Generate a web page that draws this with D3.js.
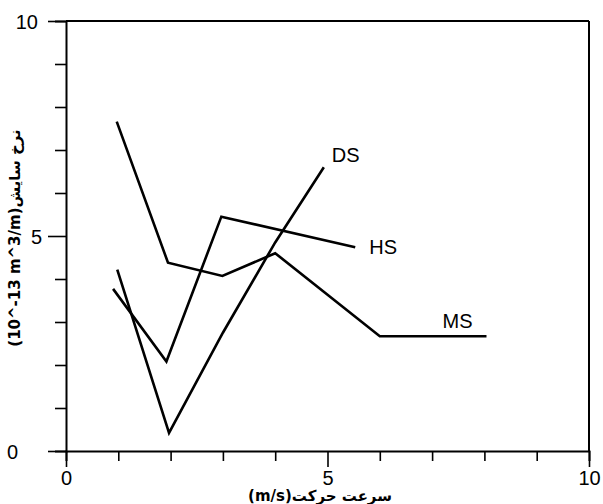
<!DOCTYPE html>
<html><head><meta charset="utf-8">
<script src="https://cdn.jsdelivr.net/npm/d3@7"></script>
<style>body{margin:0;background:#fff;} svg{display:block;}</style>
</head><body>
<svg id="c" width="603" height="504"></svg>
<script>
// ---- data ----
const seriesNames = ["MS", "HS", "DS"];
const msX = [0.97, 1.95, 2.99, 4.0, 6.0, 8.04];
const msY = [7.66, 4.38, 4.07, 4.6, 2.67, 2.67];
const hsX = [0.9, 1.92, 2.97, 5.53];
const hsY = [3.77, 2.08, 5.45, 4.74];
const dsX = [0.98, 1.97, 3.0, 4.0, 4.93];
const dsY = [4.22, 0.42, 2.75, 4.85, 6.6];
const xTicks = [0,1,2,3,4,5,6,7,8,9,10];
const yTicks = [0,1,2,3,4,5,6,7,8,9,10];
const majorTicks = [0, 5, 10];
const xTitle = "(m/s)سرعت حرکت";
const yTitle = "(10^-13 m^3/m)نرخ سایش";

const svg = d3.select("#c");
const x = d3.scaleLinear().domain([0,10]).range([66,589]);
const y = d3.scaleLinear().domain([0,10]).range([451,21]);

const series = [
  {name:"MS", xs:msX, ys:msY, dx:-44, dy:-8},
  {name:"HS", xs:hsX, ys:hsY, dx:14, dy:7},
  {name:"DS", xs:dsX, ys:dsY, dx:8, dy:-5}
];

// frame top and right
svg.append("line").attr("x1",x(0)).attr("x2",x(10)).attr("y1",y(10)).attr("y2",y(10))
  .attr("stroke","#000").attr("stroke-width",2);
svg.append("line").attr("x1",x(10)).attr("x2",x(10)).attr("y1",y(0)).attr("y2",y(10))
  .attr("stroke","#000").attr("stroke-width",2);

// x axis
const gx = svg.append("g").attr("transform",`translate(0,${y(0)})`)
  .call(d3.axisBottom(x).tickValues(xTicks).tickSizeOuter(0)
    .tickSize(10).tickFormat(d => majorTicks.includes(d) ? d : ""));
gx.select(".domain").attr("stroke-width",2);
gx.selectAll(".tick line").attr("stroke-width",1.6)
  .attr("y2", d => majorTicks.includes(d) ? 16 : 10);
gx.selectAll(".tick text").attr("font-family","Liberation Sans, Arial, sans-serif")
  .attr("font-size",20).attr("fill","#000").attr("y",20).attr("dy","0.71em");

// y axis
const gy = svg.append("g").attr("transform",`translate(${x(0)},0)`)
  .call(d3.axisLeft(y).tickValues(yTicks).tickSizeOuter(0)
    .tickSize(11).tickFormat(d => majorTicks.includes(d) ? d : ""));
gy.select(".domain").attr("stroke-width",2);
gy.selectAll(".tick line").attr("stroke-width",1.6)
  .attr("x2", d => majorTicks.includes(d) ? -18 : -11);
gy.selectAll(".tick text").attr("font-family","Liberation Sans, Arial, sans-serif")
  .attr("font-size",20).attr("fill","#000")
  .attr("x", d => d === 0 ? -48 : (d === 5 ? -24 : -28)).attr("dy","0.35em");

// lines
const line = d3.line().x(d => x(d[0])).y(d => y(d[1]));
series.forEach(s => {
  const pts = s.xs.map((v,i) => [v, s.ys[i]]);
  svg.append("path").datum(pts).attr("d", line)
    .attr("fill","none").attr("stroke","#000").attr("stroke-width",2.6)
    .attr("stroke-linejoin","miter");
  const last = pts[pts.length-1];
  svg.append("text").attr("x", x(last[0]) + s.dx).attr("y", y(last[1]) + s.dy)
    .attr("font-family","Liberation Sans, Arial, sans-serif").attr("font-size",20)
    .text(s.name);
});

// axis titles
svg.append("text").attr("x", 320).attr("y", 501).attr("text-anchor","middle")
  .attr("font-family","DejaVu Sans, sans-serif").attr("font-weight","bold")
  .attr("font-size",15).attr("direction","ltr").text(xTitle);
svg.append("text").attr("transform","translate(20,238) rotate(-90)")
  .attr("text-anchor","middle")
  .attr("font-family","DejaVu Sans, sans-serif").attr("font-weight","bold")
  .attr("font-size",15).attr("direction","ltr").text(yTitle);
</script>
</body></html>
